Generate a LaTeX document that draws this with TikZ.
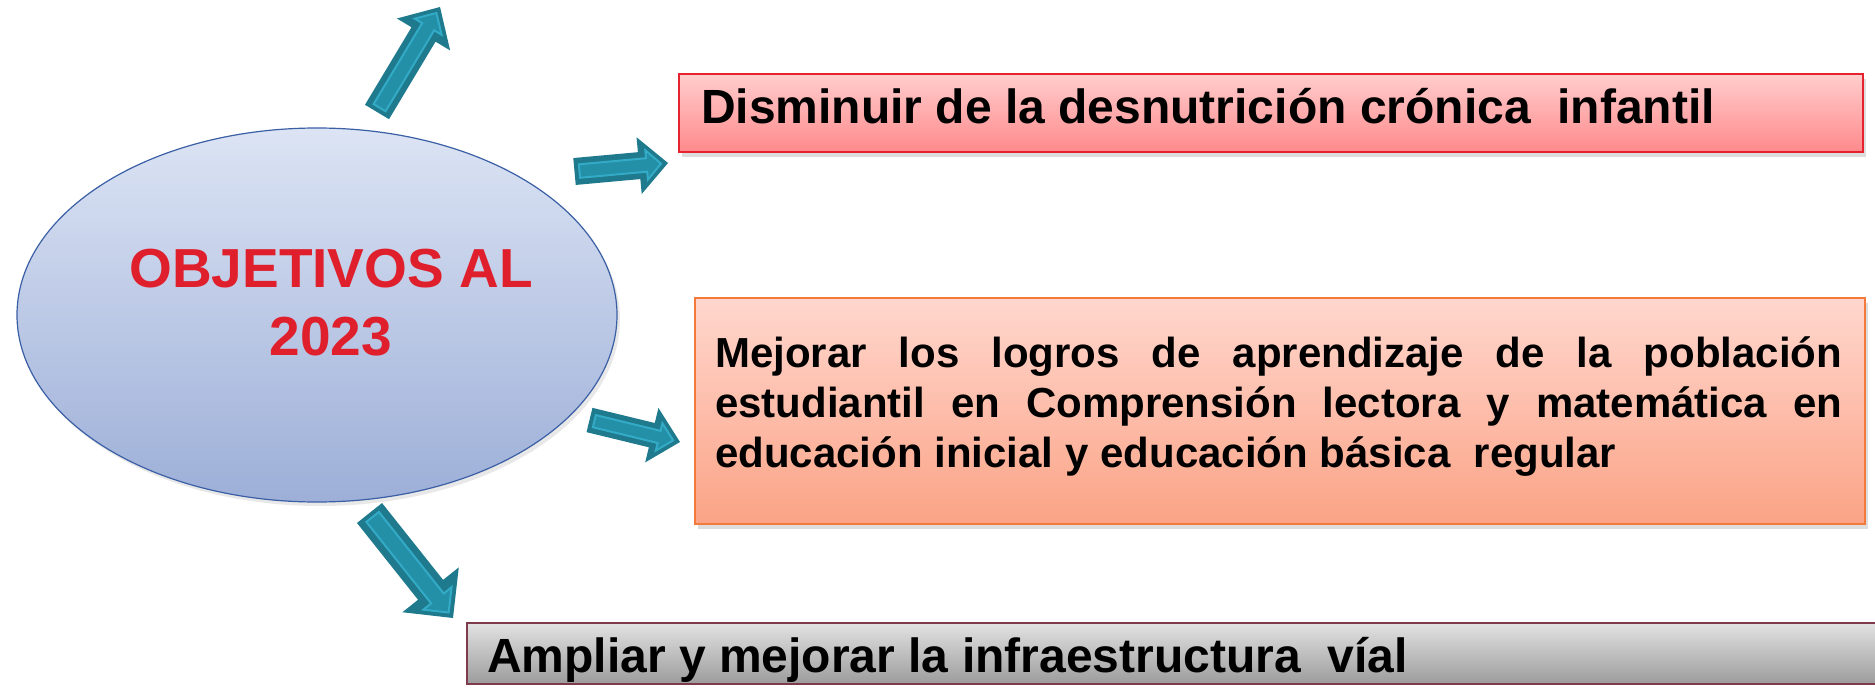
\documentclass[tikz,border=0pt]{standalone}
\usepackage{fontspec}
\setmainfont{Liberation Sans}
\usetikzlibrary{calc,shapes.geometric,shadows}
\definecolor{tealD}{HTML}{1E7A8C}
\definecolor{tealM}{HTML}{2490A8}
\definecolor{tealL}{HTML}{33AAC6}
\definecolor{ellT}{HTML}{DCE4F4}
\definecolor{ellB}{HTML}{9DAFD8}
\definecolor{ellE}{HTML}{3B5FA5}
\definecolor{bAT}{HTML}{FFCDCD}
\definecolor{bAB}{HTML}{FF8A8C}
\definecolor{bAE}{HTML}{E5222E}
\definecolor{bBT}{HTML}{FFD7CE}
\definecolor{bBB}{HTML}{FBA386}
\definecolor{bBE}{HTML}{F47A3C}
\definecolor{bCT}{HTML}{E2E2E2}
\definecolor{bCB}{HTML}{9C9C9C}
\definecolor{bCE}{HTML}{7E3B4C}
\definecolor{objred}{HTML}{DF1F2B}
\newcommand\arrpoly[6]{%
  \coordinate (ap-b) at ($(#3)!#6pt!(#2)$);
  \path[#1] ($(#2)!#4pt!90:(#3)$) -- ($(ap-b)!#4pt!90:(#3)$) -- ($(ap-b)!#5pt!90:(#3)$) -- (#3)
    -- ($(ap-b)!#5pt!-90:(#3)$) -- ($(ap-b)!#4pt!-90:(#3)$) -- ($(#2)!#4pt!-90:(#3)$) -- cycle;
}
\newcommand\tealarrow[5]{%
  \arrpoly{fill=tealD}{#1}{#2}{#3}{#4}{#5}
  \coordinate (ta-t1) at ($(#1)!5pt!(#2)$);
  \coordinate (ta-p1) at ($(#2)!7pt!(#1)$);
  \pgfmathsetmacro\twa{0.5*#3}\pgfmathsetmacro\tha{0.5*#3+0.28*#4}\pgfmathsetmacro\thla{0.5*#5}
  \arrpoly{fill=tealM, draw=tealL, line width=2pt, line join=miter}{ta-t1}{ta-p1}{\twa}{\tha}{\thla}
}
\tikzset{
  sh/.style={drop shadow={shadow xshift=3pt, shadow yshift=-5pt, opacity=0.22, fill=black!60}},
  boxA/.style={sh, draw=bAE, line width=1.5pt, top color=bAT, bottom color=bAB, anchor=north west, inner sep=0pt},
  boxB/.style={sh, draw=bBE, line width=1.5pt, top color=bBT, bottom color=bBB, anchor=north west, inner sep=0pt},
  boxC/.style={draw=bCE, line width=2pt, top color=bCT, bottom color=bCB, anchor=north west, inner sep=0pt},
  objell/.style={ellipse, drop shadow={shadow xshift=3pt, shadow yshift=-4pt, opacity=0.15, fill=black!60},
    draw=ellE, line width=1.2pt, top color=ellT, bottom color=ellB, inner sep=0pt},
  btxt/.style={anchor=base west, inner sep=0pt, font=\bfseries\fontsize{48}{58}\selectfont}
}
\begin{document}
\begin{tikzpicture}[x=1pt,y=-1pt]
\path[use as bounding box, fill=white] (0,0) rectangle (1875,696);
% central ellipse
\node[objell, minimum width=600pt, minimum height=374pt] (obj) at (317,315) {};
\node[anchor=base, inner sep=0pt, text=objred, font=\bfseries\fontsize{55}{68}\selectfont] (objt) at (331,287)
  {\parbox[t]{520pt}{\centering OBJETIVOS AL\\2023}};
% boxes
\node[boxA, minimum width=1184pt, minimum height=78pt] (b1) at (678,73) {};
\node[btxt] (t1) at (701,123) {Disminuir de la desnutrición crónica\ \ infantil};
\node[boxB, minimum width=1170pt, minimum height=226pt] (b2) at (694,297) {};
\node[anchor=base west, inner sep=0pt, font=\bfseries\fontsize{42}{50}\selectfont] (t2) at (715,367)
  {\parbox[t]{1127pt}{\makebox[1127pt][s]{Mejorar los logros de aprendizaje de la población}\\
   \makebox[1127pt][s]{estudiantil en Comprensión lectora y matemática en}\\
   educación inicial y educación básica\ \ regular}};
\node[boxC, minimum width=1430pt, minimum height=61pt] (b3) at (466,622) {};
\node[btxt] (t3) at (487,672) {Ampliar y mejorar la infraestructura\ \ víal};
% arrows
\coordinate (a1t) at (377,112); \coordinate (a1p) at (440,7);
\coordinate (a2t) at (574.5,171.5); \coordinate (a2p) at (668,163);
\coordinate (a3t) at (589.5,420); \coordinate (a3p) at (680,442);
\coordinate (a4t) at (369.5,513); \coordinate (a4p) at (453,618);
\tealarrow{a1t}{a1p}{14}{31}{32}
\tealarrow{a2t}{a2p}{13.5}{28.5}{29}
\tealarrow{a3t}{a3p}{12.5}{28}{29}
\tealarrow{a4t}{a4p}{16}{36}{36}
\end{tikzpicture}
\end{document}
